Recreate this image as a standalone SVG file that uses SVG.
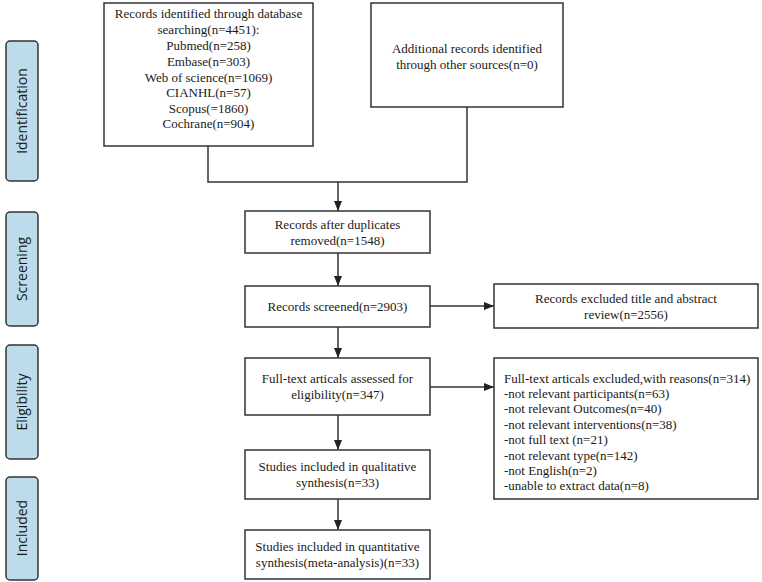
<svg xmlns="http://www.w3.org/2000/svg" width="762" height="582" viewBox="0 0 762 582">
<style>
.box{fill:#fff;stroke:#333;stroke-width:1.5}
.tab{fill:#bcdcec;stroke:#333;stroke-width:1.5}
.t{font-family:"Liberation Serif","Times New Roman",serif;font-size:13px;fill:#1a1a1a}
.c{text-anchor:middle}
.tt{font-family:"Open Sans","Noto Sans",sans-serif;font-size:14px;fill:#1a1a1a;text-anchor:middle}
.ln{fill:none;stroke:#333;stroke-width:1.5}
</style>
<defs>
<marker id="ah" markerWidth="10" markerHeight="8" refX="10" refY="4" orient="auto" markerUnits="userSpaceOnUse">
<path d="M0,0 L10,4 L0,8 Z" fill="#222"/>
</marker>
</defs>
<rect width="762" height="582" fill="#fff"/>
<g id="tab-identification"><rect class="tab" x="6" y="41" width="32" height="140" rx="4"/><text class="tt" transform="translate(27,111) rotate(-90)">Identification</text></g>
<g id="tab-screening"><rect class="tab" x="6" y="212" width="32" height="114" rx="4"/><text class="tt" transform="translate(27,269) rotate(-90)">Screening</text></g>
<g id="tab-eligibility"><rect class="tab" x="6" y="345" width="32" height="114" rx="4"/><text class="tt" transform="translate(27,402) rotate(-90)">Eligibility</text></g>
<g id="tab-included"><rect class="tab" x="6" y="477" width="32" height="103" rx="4"/><text class="tt" transform="translate(27,528) rotate(-90)">Included</text></g>

<g id="connectors">
<path class="ln" d="M208,146 V182 H467 V107"/>
<path class="ln" d="M338,182 V211" marker-end="url(#ah)"/>
<path class="ln" d="M338,253 V286" marker-end="url(#ah)"/>
<path class="ln" d="M338,327 V358" marker-end="url(#ah)"/>
<path class="ln" d="M338,415 V450" marker-end="url(#ah)"/>
<path class="ln" d="M338,499 V530" marker-end="url(#ah)"/>
<path class="ln" d="M430,306 H494" marker-end="url(#ah)"/>
<path class="ln" d="M430,387 H494" marker-end="url(#ah)"/>
</g>

<g id="n-database"><rect class="box" x="104" y="3" width="209" height="143"/>
<text class="t c" x="208.5" y="18">Records identified through database</text>
<text class="t c" x="208.5" y="34">searching(n=4451):</text>
<text class="t c" x="208.5" y="50">Pubmed(n=258)</text>
<text class="t c" x="208.5" y="66">Embase(n=303)</text>
<text class="t c" x="208.5" y="82">Web of science(n=1069)</text>
<text class="t c" x="208.5" y="97">CIANHL(n=57)</text>
<text class="t c" x="208.5" y="113">Scopus(=1860)</text>
<text class="t c" x="208.5" y="128">Cochrane(n=904)</text>
</g>
<g id="n-additional"><rect class="box" x="371" y="3" width="192" height="104"/>
<text class="t c" x="467" y="53">Additional records identified</text>
<text class="t c" x="467" y="69">through other sources(n=0)</text>
</g>
<g id="n-duplicates"><rect class="box" x="245" y="211" width="185" height="42"/>
<text class="t c" x="337.5" y="229">Records after duplicates</text>
<text class="t c" x="337.5" y="245">removed(n=1548)</text>
</g>
<g id="n-screened"><rect class="box" x="245" y="286" width="185" height="41"/>
<text class="t c" x="337.5" y="311">Records screened(n=2903)</text>
</g>
<g id="n-excluded"><rect class="box" x="494" y="284" width="264" height="44"/>
<text class="t c" x="626" y="303">Records excluded title and abstract</text>
<text class="t c" x="626" y="319">review(n=2556)</text>
</g>
<g id="n-fulltext"><rect class="box" x="245" y="358" width="185" height="57"/>
<text class="t c" x="337.5" y="383">Full-text articals assessed for</text>
<text class="t c" x="337.5" y="399">eligibility(n=347)</text>
</g>
<g id="n-fulltext-excluded"><rect class="box" x="494" y="358" width="264" height="141"/>
<text class="t" x="504" y="383">Full-text articals excluded,with reasons(n=314)</text>
<text class="t" x="504" y="398">-not relevant participants(n=63)</text>
<text class="t" x="504" y="413">-not relevant Outcomes(n=40)</text>
<text class="t" x="504" y="429">-not relevant interventions(n=38)</text>
<text class="t" x="504" y="444">-not full text (n=21)</text>
<text class="t" x="504" y="460">-not relevant type(n=142)</text>
<text class="t" x="504" y="475">-not English(n=2)</text>
<text class="t" x="504" y="490">-unable to extract data(n=8)</text>
</g>
<g id="n-qualitative"><rect class="box" x="245" y="450" width="185" height="49"/>
<text class="t c" x="337.5" y="471">Studies included in qualitative</text>
<text class="t c" x="337.5" y="487">synthesis(n=33)</text>
</g>
<g id="n-quantitative"><rect class="box" x="245" y="530" width="185" height="49"/>
<text class="t c" x="337.5" y="551">Studies included in quantitative</text>
<text class="t c" x="337.5" y="567">synthesis(meta-analysis)(n=33)</text>
</g>
</svg>
